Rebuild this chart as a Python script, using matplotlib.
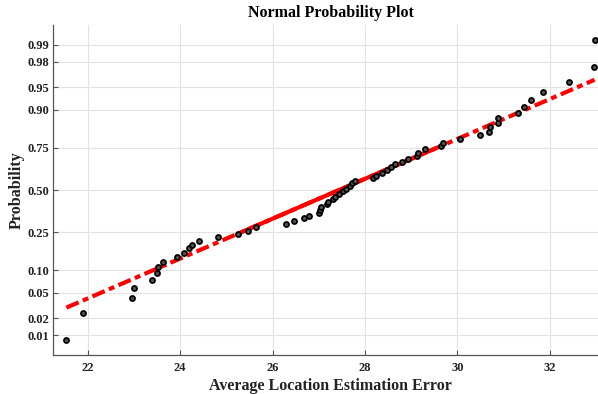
import numpy as np
import matplotlib
matplotlib.use("Agg")
import matplotlib.pyplot as plt
from statistics import NormalDist

# ---- data ----
errors = [21.54, 21.91, 22.96, 23.00, 23.40, 23.49, 23.53, 23.64, 23.94, 24.09,
          24.19, 24.26, 24.40, 24.83, 25.26, 25.48, 25.64, 26.30, 26.46, 26.68,
          26.78, 27.01, 27.02, 27.04, 27.18, 27.21, 27.30, 27.36, 27.44, 27.52,
          27.60, 27.68, 27.73, 27.78, 28.18, 28.25, 28.36, 28.47, 28.56, 28.66,
          28.81, 28.94, 29.12, 29.14, 29.30, 29.64, 29.68, 30.06, 30.50, 30.69,
          30.71, 30.87, 30.89, 31.31, 31.44, 31.59, 31.86, 32.42, 32.96, 32.97]
prob_ticks = [0.01, 0.02, 0.05, 0.10, 0.25, 0.50, 0.75, 0.90, 0.95, 0.98, 0.99]
x_ticks = [22, 24, 26, 28, 30, 32]
ref_x = [21.54, 32.97]          # reference line x-extent
ref_p = [0.030, 0.961]          # reference line probabilities at its ends
quartile_p = [0.25, 0.75]       # solid part of the reference line
x_limits = [21.25, 33.26]

nd = NormalDist()
q = np.vectorize(nd.inv_cdf)

x = np.sort(np.array(errors))
n = len(x)
pp = (np.arange(1, n + 1) - 0.5) / n
z = q(pp)

zr = q(np.array(ref_p))
slope = (zr[1] - zr[0]) / (ref_x[1] - ref_x[0])
zq = q(np.array(quartile_p))
xq = ref_x[0] + (zq - zr[0]) / slope

plt.rcParams["font.family"] = ["Liberation Serif", "DejaVu Serif"]
plt.rcParams["font.weight"] = "bold"

fig = plt.figure(figsize=(5.98, 3.94), dpi=100)
ax = fig.add_axes([53 / 598, 39 / 394, (608 - 53) / 598, 330 / 394])

red = "#ff0000"
ax.plot(ref_x, zr, color=red, lw=3.0, linestyle=(0, (3.2, 1.1, 1.4, 1.1)),
        solid_capstyle="butt", dash_capstyle="butt", zorder=2)
ax.plot(xq, zq, color=red, lw=3.0, solid_capstyle="butt", zorder=3)
ax.plot(x, z, linestyle="none", marker="o", markersize=3.6, mec="black",
        mfc="#555555", mew=1.3, zorder=4)

ax.set_xlim(x_limits)
ax.set_ylim(nd.inv_cdf(0.25 / n), nd.inv_cdf(1 - 0.25 / n))
ax.set_xticks(x_ticks)
ax.set_xticklabels([str(t) for t in x_ticks])
ax.set_yticks(q(np.array(prob_ticks)))
ax.set_yticklabels([f"{p:.2f}" for p in prob_ticks])

ax.grid(True, color="#e3e3e3", lw=0.8)
ax.set_axisbelow(True)
for s in ["top", "right"]:
    ax.spines[s].set_visible(False)
for s in ["left", "bottom"]:
    ax.spines[s].set_color("#555555")
    ax.spines[s].set_linewidth(0.9)
ax.tick_params(direction="in", length=3.5, width=0.8, color="#555555",
               labelsize=9, labelcolor="#222222")
ax.tick_params(axis="x", pad=5)
ax.tick_params(axis="y", pad=3)

ax.set_title("Normal Probability Plot", fontsize=11.5, fontweight="bold", pad=6)
ax.set_xlabel("Average Location Estimation Error", fontsize=11.5, fontweight="bold",
              labelpad=3, color="#222222")
ax.set_ylabel("Probability", fontsize=11.5, fontweight="bold", labelpad=2,
              color="#222222")

fig.savefig("out.png", dpi=100)
